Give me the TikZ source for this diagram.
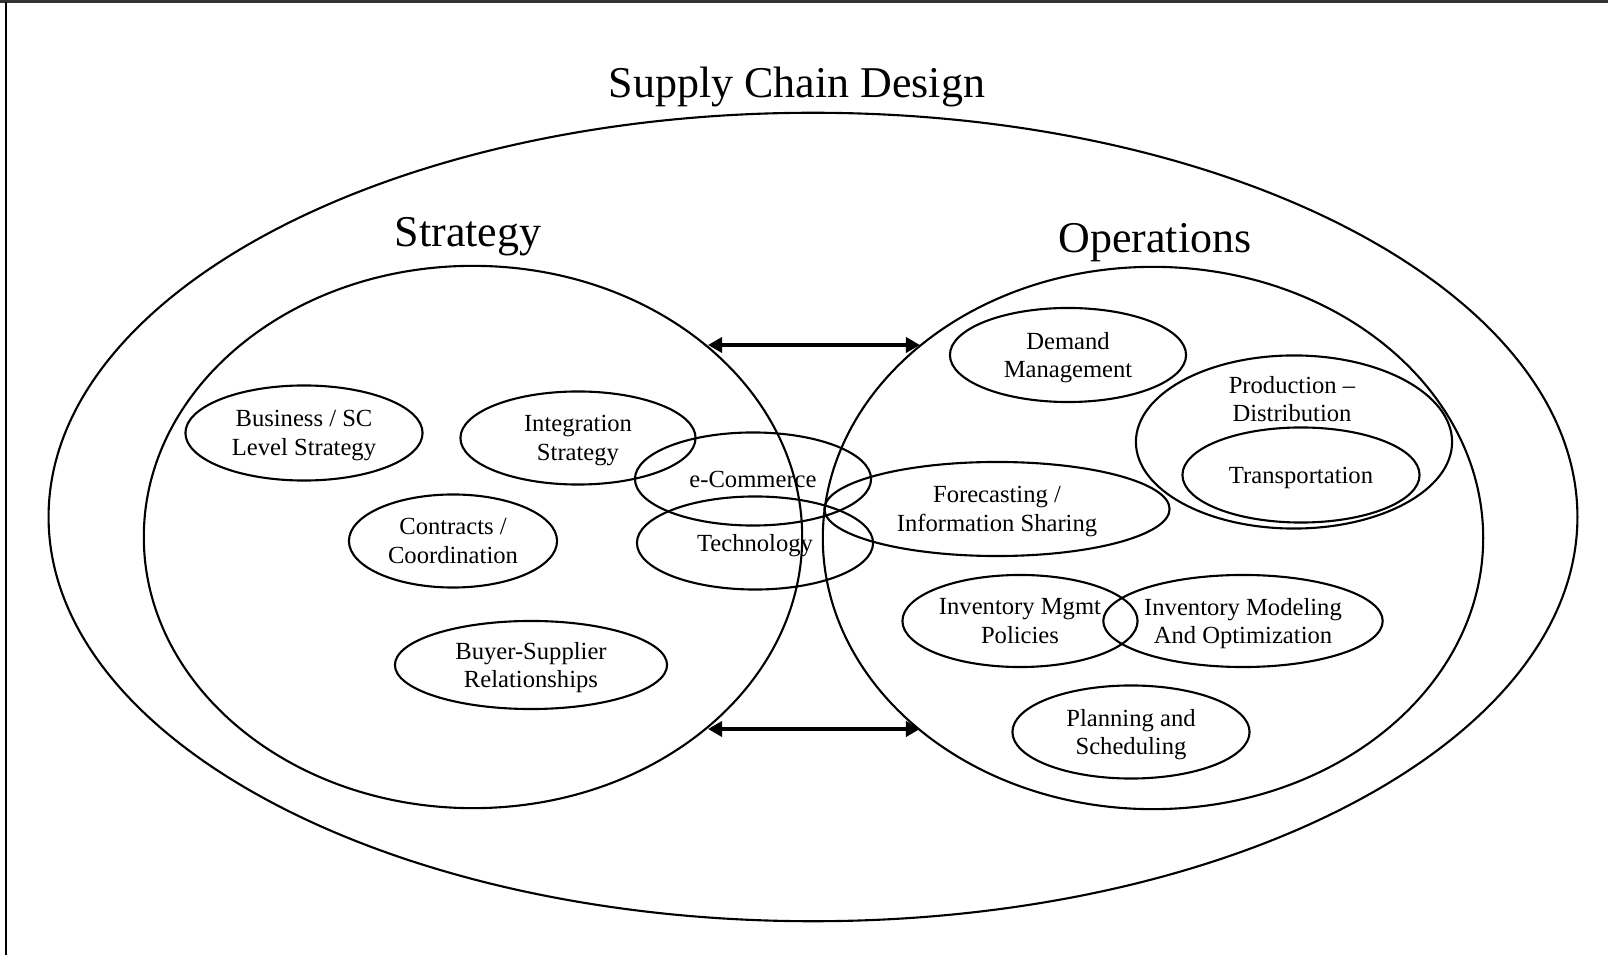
\documentclass[tikz,border=0pt]{standalone}
\usepackage{fontspec}
\setmainfont{Liberation Serif}
\usetikzlibrary{shapes.geometric,arrows.meta}

\begin{document}
\begin{tikzpicture}[x=0.01cm,y=-0.01cm]
  \tikzstyle{v} = [ellipse, draw, line width=0.6pt, inner sep=0pt, align=center,
                   text depth=0pt, font=\fontsize{7}{8.2}\selectfont]
  \tikzstyle{big} = [text depth=0pt, font=\fontsize{12.5}{15}\selectfont]
  \tikzstyle{txt} = [align=center, text depth=0pt, font=\fontsize{7}{8.2}\selectfont]
  \tikzstyle{a} = [line width=1.2pt, {Triangle[length=0.14cm,width=0.15cm]}-{Triangle[length=0.14cm,width=0.15cm]}]
  \useasboundingbox (0,0) rectangle (1608,955);
  \draw[line width=0.03cm, black!80] (0,2) -- (1608,2);
  \draw[line width=0.012cm] (6,2) -- (6,955);

  \node[big](title) at (797,82){Supply Chain Design};
  \node[v, minimum width=15.28cm, minimum height=8.08cm](scd) at (813,517){};

  \node[v, minimum width=6.58cm, minimum height=5.42cm](strat) at (473,537){};
  \node[big](stratlbl) at (468,232){Strategy};
  \node[v, minimum width=6.60cm, minimum height=5.42cm](oper) at (1153,538){};
  \node[big](operlbl) at (1155,238){Operations};

  % strategy side
  \node[v, minimum width=2.37cm, minimum height=0.95cm](bus) at (304,433){Business / SC\\Level Strategy};
  \node[v, minimum width=2.35cm, minimum height=0.93cm](integ) at (578,438){Integration\\Strategy};
  \node[v, minimum width=2.08cm, minimum height=0.93cm](contr) at (453,541){Contracts /\\Coordination};
  \node[v, minimum width=2.72cm, minimum height=0.88cm](buyer) at (531,665){Buyer-Supplier\\Relationships};
  \node[v, minimum width=2.36cm, minimum height=0.93cm](ecom) at (753,479){e-Commerce};
  \node[v, minimum width=2.36cm, minimum height=0.93cm](tech) at (755,543){Technology};

  % operations side
  \node[v, minimum width=2.36cm, minimum height=0.94cm](dem) at (1068,355){Demand\\Management};
  \node[v, minimum width=3.16cm, minimum height=1.73cm](prod) at (1294,442){};
  \node[txt](prodlbl) at (1292,399){Production --\\Distribution};
  \node[v, minimum width=2.37cm, minimum height=0.95cm](trans) at (1301,475){Transportation};
  \node[v, minimum width=3.45cm, minimum height=0.94cm](fore) at (997,509){Forecasting /\\Information Sharing};
  \node[v, minimum width=2.35cm, minimum height=0.92cm](invm) at (1020,621){Inventory Mgmt\\Policies};
  \node[v, minimum width=2.75cm, minimum height=0.92cm](invo) at (1243,621){Inventory Modeling\\And Optimization};
  \node[v, minimum width=2.37cm, minimum height=0.93cm](plan) at (1131,732){Planning and\\Scheduling};

  \coordinate (s1) at (708,345);
  \coordinate (o1) at (920,345);
  \coordinate (s2) at (708,729);
  \coordinate (o2) at (920,729);
  \draw[a](s1)--(o1);
  \draw[a](s2)--(o2);

\end{tikzpicture}
\end{document}
